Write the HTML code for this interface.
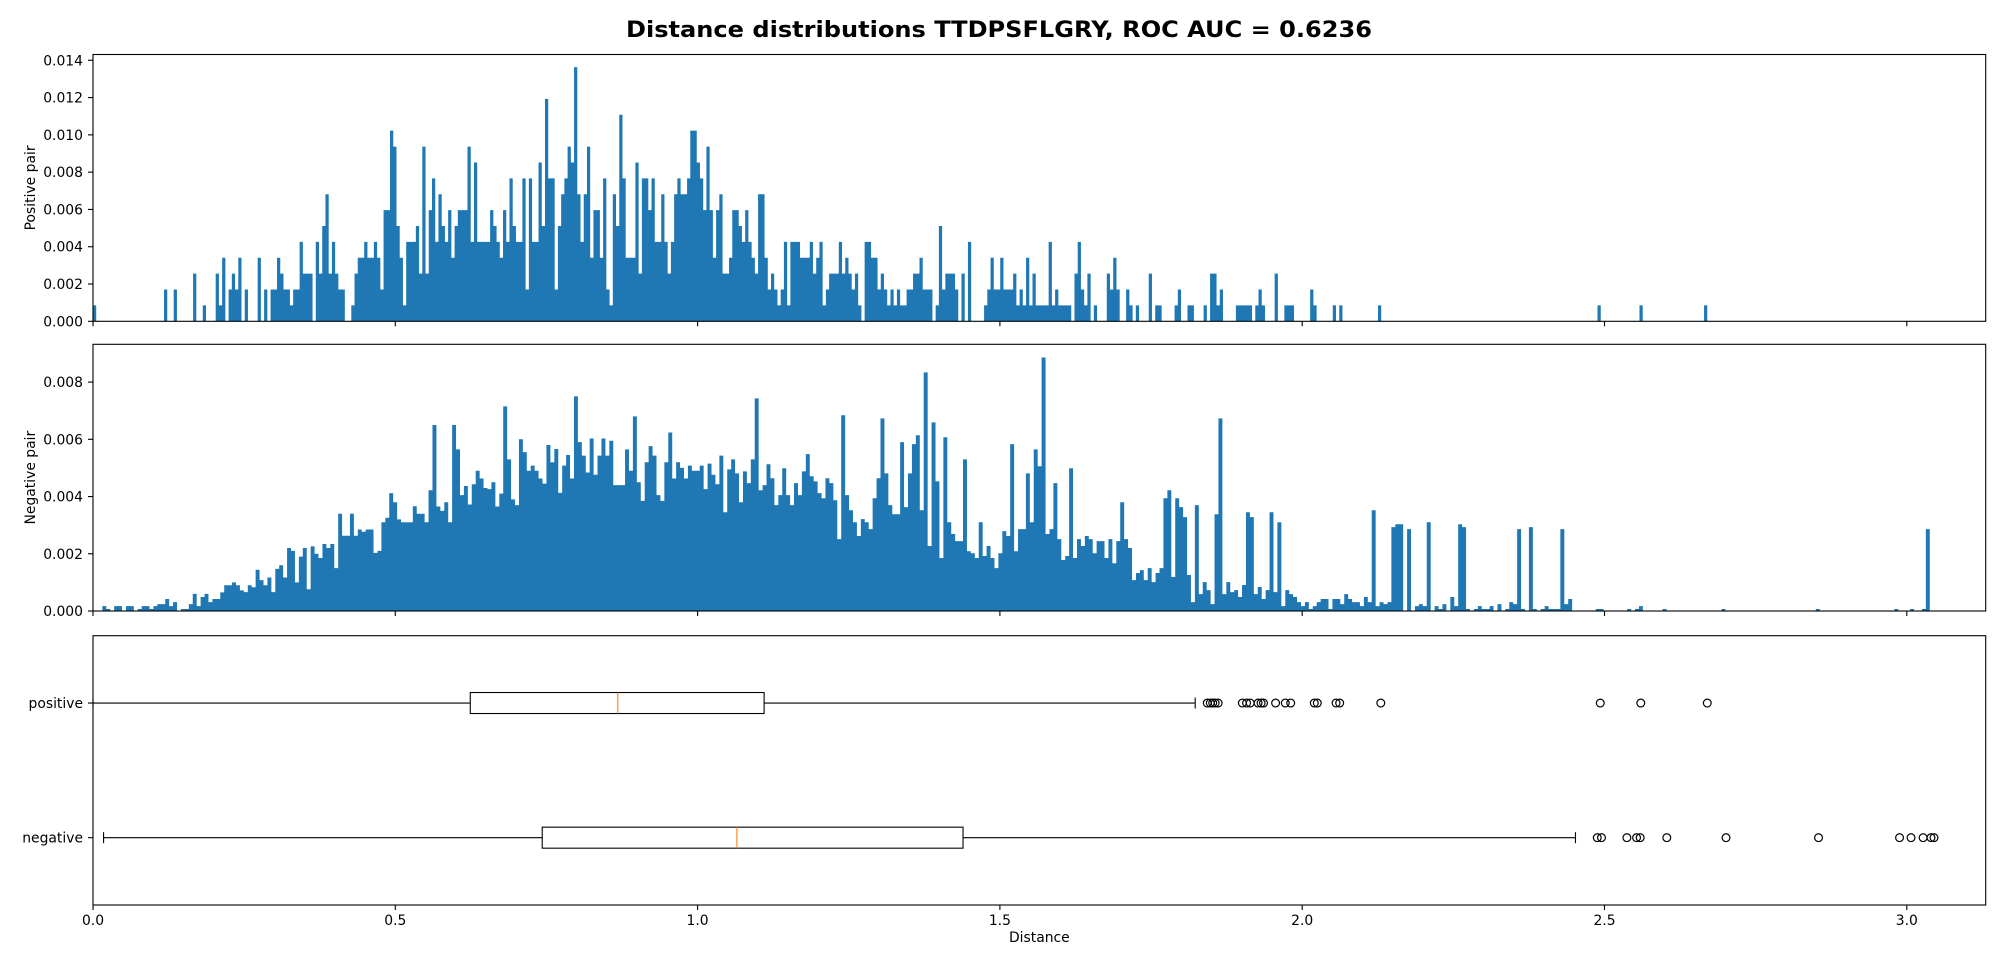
<!DOCTYPE html>
<html><head><meta charset="utf-8"><title>Distance distributions</title>
<style>
html,body{margin:0;padding:0;background:#fff;}
svg{display:block;font-family:"DejaVu Sans","Liberation Sans",sans-serif;}
</style></head>
<body>
<svg id="fig" width="2000" height="960" viewBox="0 0 2000 960" xmlns="http://www.w3.org/2000/svg">
<rect x="0" y="0" width="2000" height="960" fill="#ffffff"/>
<text x="999" y="37" text-anchor="middle" font-size="22" font-weight="bold" textLength="746" lengthAdjust="spacingAndGlyphs">Distance distributions TTDPSFLGRY, ROC AUC = 0.6236</text>
<g id="gTop"></g>
<g id="gMid"></g>
<g id="gBox"></g>
</svg>
<script>
// ---------- data ----------
const xTicks = [0, 0.5, 1.0, 1.5, 2.0, 2.5, 3.0];
const xTickLabels = ["0.0", "0.5", "1.0", "1.5", "2.0", "2.5", "3.0"];
const posTicks = [0, 0.002, 0.004, 0.006, 0.008, 0.010, 0.012, 0.014];
const posTickLabels = ["0.000","0.002","0.004","0.006","0.008","0.010","0.012","0.014"];
const negTicks = [0, 0.002, 0.004, 0.006, 0.008];
const negTickLabels = ["0.000","0.002","0.004","0.006","0.008"];
const boxCategories = ["negative", "positive"];

// positive histogram: 500 bins from 0 to 2.67, counts (density = count / (N*binWidth))
const posBinStart = 0;
const posBinWidth = 0.00534;
const posDensityPerCount = 0.000852;
const posCounts = [1,0,0,0,0,0,0,0,0,0,0,0,0,0,0,0,0,0,0,0,0,0,2,0,0,2,0,0,0,0,0,3,0,0,1,0,0,0,3,1,4,0,2,3,2,4,0,2,0,0,0,4,0,2,0,
2,2,4,3,2,2,1,2,2,5,3,3,3,0,5,3,6,8,3,5,3,2,2,0,0,1,3,4,4,5,4,4,5,4,2,
7,7,12,11,6,4,1,5,5,5,6,3,11,3,7,9,5,8,6,5,7,4,6,7,7,7,11,5,10,5,5,5,5,7,6,5,4,7,5,9,6,5,5,9,2,9,5,5,10,6,
14,9,9,2,6,8,9,11,10,16,8,5,8,11,4,7,7,4,9,2,1,8,6,13,9,4,4,4,10,3,9,9,7,9,5,5,8,5,3,5,8,9,8,8,9,
12,12,10,9,7,11,7,4,7,8,3,3,4,7,7,6,5,7,5,4,3,8,8,4,2,3,2,1,2,5,1,5,5,5,4,4,4,5,3,4,5,1,2,
3,3,3,5,3,4,3,2,3,1,0,5,5,4,4,2,3,2,1,2,1,2,1,1,2,2,3,3,4,2,2,2,0,1,6,2,3,3,3,2,0,3,0,5,0,0,0,0];
const posSparseBins = [276,277,278,279,280,281,282,283,284,285,286,287,288,289,290,291,292,293,294,295,296,297,298,299,300,301,302,
304,305,306,307,308,310,314,315,316,317,320,321,323,327,329,330,335,336,339,340,344,346,347,348,349,354,355,356,357,358,360,361,362,366,369,370,371,377,378,384,386,398,466,479,499];
const posSparseCounts = [1,2,4,2,2,4,2,2,2,3,1,2,1,4,1,3,1,1,1,1,5,1,2,1,1,1,1,
3,5,2,1,3,1,3,2,4,2,2,1,1,3,1,1,1,2,1,1,1,3,3,1,2,1,1,1,1,1,1,2,1,3,1,1,1,2,1,1,1,1,1,1,1];

// negative histogram: bins of width 0.0065 starting at 0.0155, density in units of 1e-4
const negBinStart = 0.0155;
const negBinWidth = 0.0065;
const negDensity = [1.7,0.7,0,1.7,1.7,0,1.7,1.7,0,0.7,1.7,1.7,0.7,1.7,2.4,2.4,4.2,1.7,3.1,0,
0.7,0.7,2.4,6,1.7,4.9,6,3.1,4.2,4.2,6.5,9,9,10,9,7.2,6.6,9,8.3,14.4,
10.8,9,11.7,6.6,14.7,16,11.7,22,21,10,19,22,7.6,22.6,20,18.5,23.4,22,23.4,15,
34,26.3,26.3,34,26.3,28.5,27.7,28.5,28.5,20.3,21,31,32.6,41.2,38,32,31,31,31,36.6,
34,34,31,42.2,65,36.5,35,38,31,65,56.5,40.5,43.7,37.2,44.3,49,46.3,43,42.6,45,
36.5,41,71.5,53,39,37,60,55.5,49,50.8,49,46.3,44.5,58,52,56.6,41.3,50.8,54.5,46.3,
75,59,54.3,48.4,60.3,47.6,54.3,60.3,54.3,59.5,44,44,44,56.5,49,68,45,38.5,52,57.6,
54.3,40.5,38.5,52,62.4,46.3,52,50,46.3,50.8,49,49,50.8,42.6,51.5,47.6,44.3,54.3,34.5,49.5,
53,48.1,38,48.8,44.7,53,74.3,42.2,44,51.3,46.4,37,40.5,49.9,40.5,37,44.7,40.5,48.8,54.8,
47.1,45.3,41.2,39.4,46.4,44.7,38.7,25.1,68.4,40.5,35.2,31,26.2,32.1,31,28.6,39.4,46.4,67.3,48.1,
37,33.8,33.8,59,36.3,48.1,58.3,61.4,35.2,83.4,22.7,65.9,45.3,18.5,60.7,31,26.9,24.4,24.4,53,
20.9,20.2,18.5,31,19.2,22.7,18.5,15,20.2,27.9,26.2,58.3,20.9,28.6,28.6,48.1,31,56.5,50.6,88.6,
26.9,28.6,44.7,25.1,17.8,19.2,49.9,18.5,25.1,22.7,26.2,25.1,20.2,24.4,24.4,18.5,25.1,16.7,24.4,38,
25.1,22,10.8,13.3,14.3,10.8,15,10.1,13.3,15,39.4,42.2,11.9,39.4,36.3,32.8,12.6,3.1,37,5.9,
10.1,7.3,2.4,33.8,67.3,5.9,10.1,6.6,7.3,4.9,9.1,34.5,32.8,5.9,8.4,4.2,7.3,34.5,6.6,31,
1.7,7.3,5.9,4.9,3.1,1.7,3.1,0.7,1.7,3.1,4.2,4.2,0.7,4.2,4.2,2.4,5.9,4.2,3.1,
3.1,1.7,4.9,3.1,35.2,1.7,3.1,2.4,3.1,29.3,30.3,30.3,0,28.6,0,1.7,2.4,1.7,31,0,
1.7,0.7,2.4,0,4.9,1.7,30.3,29.3,0.7,0,0.7,1.7,0.7,0.7,1.7,0,2.4,0,0.7,3.1,
2.4,28.6,0.7,0,29.3,0.7,0,0.7,1.7,0.7,0.7,0.7,28.6,2.4,4.2];
const negSparseBins = [380,381,388,390,391,397,412,436,456,460,463,464];
const negSparseDensity = [0.7,0.7,0.7,0.7,1.7,0.7,0.7,0.7,0.7,0.7,0.7,28.6];

// box plot statistics
const posStats = [0.0, 0.624, 0.868, 1.110, 1.823]; // whiskerLo, q1, median, q3, whiskerHi
const negStats = [0.0175, 0.743, 1.065, 1.439, 2.452];
const posOutliers = [1.843,1.848,1.852,1.856,1.861,1.901,1.908,1.914,1.927,1.932,1.936,1.956,1.972,1.981,2.020,2.025,2.056,2.062,2.130,2.493,2.560,2.670];
const negOutliers = [2.488,2.495,2.537,2.553,2.559,2.603,2.701,2.854,2.988,3.007,3.027,3.040,3.045];

// ---------- layout ----------
const NS = "http://www.w3.org/2000/svg";
const X0 = 93, X1 = 1985.7, XPX = 604.6;
const xs = d => X0 + d * XPX;
const topAx = {y0: 54.5, y1: 321.3, max: 0.01431};
const midAx = {y0: 344.3, y1: 611, max: 0.00932};
const boxAx = {y0: 635.7, y1: 905, lo: 0.5, hi: 2.5};
const yTop = v => topAx.y1 - v / topAx.max * (topAx.y1 - topAx.y0);
const yMid = v => midAx.y1 - v / midAx.max * (midAx.y1 - midAx.y0);
const yBox = p => boxAx.y1 - (p - boxAx.lo) / (boxAx.hi - boxAx.lo) * (boxAx.y1 - boxAx.y0);
const BLUE = "#1f77b4";

function mk(tag, attrs, parent) {
  const el = document.createElementNS(NS, tag);
  for (const k in attrs) el.setAttribute(k, attrs[k]);
  parent.appendChild(el);
  return el;
}

function frame(g, ax) {
  const r = mk("rect", {x: X0, y: ax.y0, width: X1 - X0, height: ax.y1 - ax.y0, fill: "none", stroke: "#000", "stroke-width": 1.1}, g);
  
  
}

function xAxis(g, ax, withLabels) {
  xTicks.forEach((t, i) => {
    const tk = mk("line", {x1: xs(t), x2: xs(t), y1: ax.y1, y2: ax.y1 + 5, stroke: "#000", "stroke-width": 1.1}, g);
    
    
    if (withLabels) {
      const tl = mk("text", {x: xs(t), y: ax.y1 + 20, "text-anchor": "middle", "font-size": 13.9}, g);
      tl.textContent = xTickLabels[i];
      
      
    }
  });
}

function yAxis(g, ticks, labels, yf, title, cy) {
  ticks.forEach((t, i) => {
    const tk = mk("line", {x1: X0 - 5, x2: X0, y1: yf(t), y2: yf(t), stroke: "#000", "stroke-width": 1.1}, g);
    
    
    const tl = mk("text", {x: X0 - 10, y: yf(t) + 5, "text-anchor": "end", "font-size": 13.9}, g);
    tl.textContent = labels[i];
    
    
  });
  if (title) {
    const yt = mk("text", {x: 0, y: 0, "text-anchor": "middle", "font-size": 13.9, transform: "translate(35," + cy + ") rotate(-90)"}, g);
    yt.textContent = title;
    
    
  }
}

// histogram drawn as one seamless step outline (each bin contributes its bar)
function histPath(densities, start, width, yf, base) {
  let d = "M" + xs(start).toFixed(2) + "," + base;
  densities.forEach((v, i) => {
    const xL = xs(start + i * width), xR = xs(start + (i + 1) * width);
    const y = v > 0 ? yf(v) : base;
    d += "L" + xL.toFixed(2) + "," + y.toFixed(2) + "L" + xR.toFixed(2) + "," + y.toFixed(2);
  });
  d += "L" + xs(start + densities.length * width).toFixed(2) + "," + base + "Z";
  return d;
}

// ---------- top: positive histogram ----------
const gTop = document.getElementById("gTop");
const posAll = new Array(500).fill(0);
posCounts.forEach((c, i) => { posAll[i] = c; });
posSparseBins.forEach((b, j) => { posAll[b] = posSparseCounts[j]; });
const posDens = posAll.map(c => c * posDensityPerCount);
const pPath = mk("path", {d: histPath(posDens, posBinStart, posBinWidth, yTop, topAx.y1), fill: BLUE, stroke: "none"}, gTop);


frame(gTop, topAx);
xAxis(gTop, topAx, false);
yAxis(gTop, posTicks, posTickLabels, yTop, "Positive pair", (topAx.y0 + topAx.y1) / 2);

// ---------- middle: negative histogram ----------
const gMid = document.getElementById("gMid");
const negAll = new Array(466).fill(0);
negDensity.forEach((v, i) => { negAll[i] = v; });
negSparseBins.forEach((b, j) => { negAll[b] = negSparseDensity[j]; });
const negDens = negAll.map(v => v * 1e-4);
const nPath = mk("path", {d: histPath(negDens, negBinStart, negBinWidth, yMid, midAx.y1), fill: BLUE, stroke: "none"}, gMid);


frame(gMid, midAx);
xAxis(gMid, midAx, false);
yAxis(gMid, negTicks, negTickLabels, yMid, "Negative pair", (midAx.y0 + midAx.y1) / 2);

// ---------- bottom: box plot ----------
const gBox = document.getElementById("gBox");
function drawBox(stats, outliers, pos, name) {
  const cy = yBox(pos), hh = 10.5, ch = 5.5;
  const g = mk("g", {}, gBox);
  
  
  const ln = (x1, y1, x2, y2, col, nm) => {
    const l = mk("line", {x1: x1, y1: y1, x2: x2, y2: y2, stroke: col, "stroke-width": 1.1}, g);
    
    
  };
  ln(xs(stats[0]), cy, xs(stats[1]), cy, "#000", "whisker-low");
  ln(xs(stats[3]), cy, xs(stats[4]), cy, "#000", "whisker-high");
  ln(xs(stats[0]), cy - ch, xs(stats[0]), cy + ch, "#000", "cap-low");
  ln(xs(stats[4]), cy - ch, xs(stats[4]), cy + ch, "#000", "cap-high");
  const b = mk("rect", {x: xs(stats[1]), y: cy - hh, width: xs(stats[3]) - xs(stats[1]), height: 2 * hh, fill: "none", stroke: "#000", "stroke-width": 1.1}, g);
  
  
  ln(xs(stats[2]), cy - hh, xs(stats[2]), cy + hh, "#ff7f0e", "median-line");
  outliers.forEach(o => {
    const c = mk("circle", {cx: xs(o), cy: cy, r: 3.9, fill: "none", stroke: "#000", "stroke-width": 1.2}, g);
    
    
  });
}
drawBox(negStats, negOutliers, 1, "negative");
drawBox(posStats, posOutliers, 2, "positive");
frame(gBox, boxAx);
xAxis(gBox, boxAx, true);
yAxis(gBox, [1, 2], boxCategories, yBox, null, 0);
const xt = mk("text", {x: (X0 + X1) / 2, y: 942, "text-anchor": "middle", "font-size": 13.9}, gBox);
xt.textContent = "Distance";


</script>
</body></html>
